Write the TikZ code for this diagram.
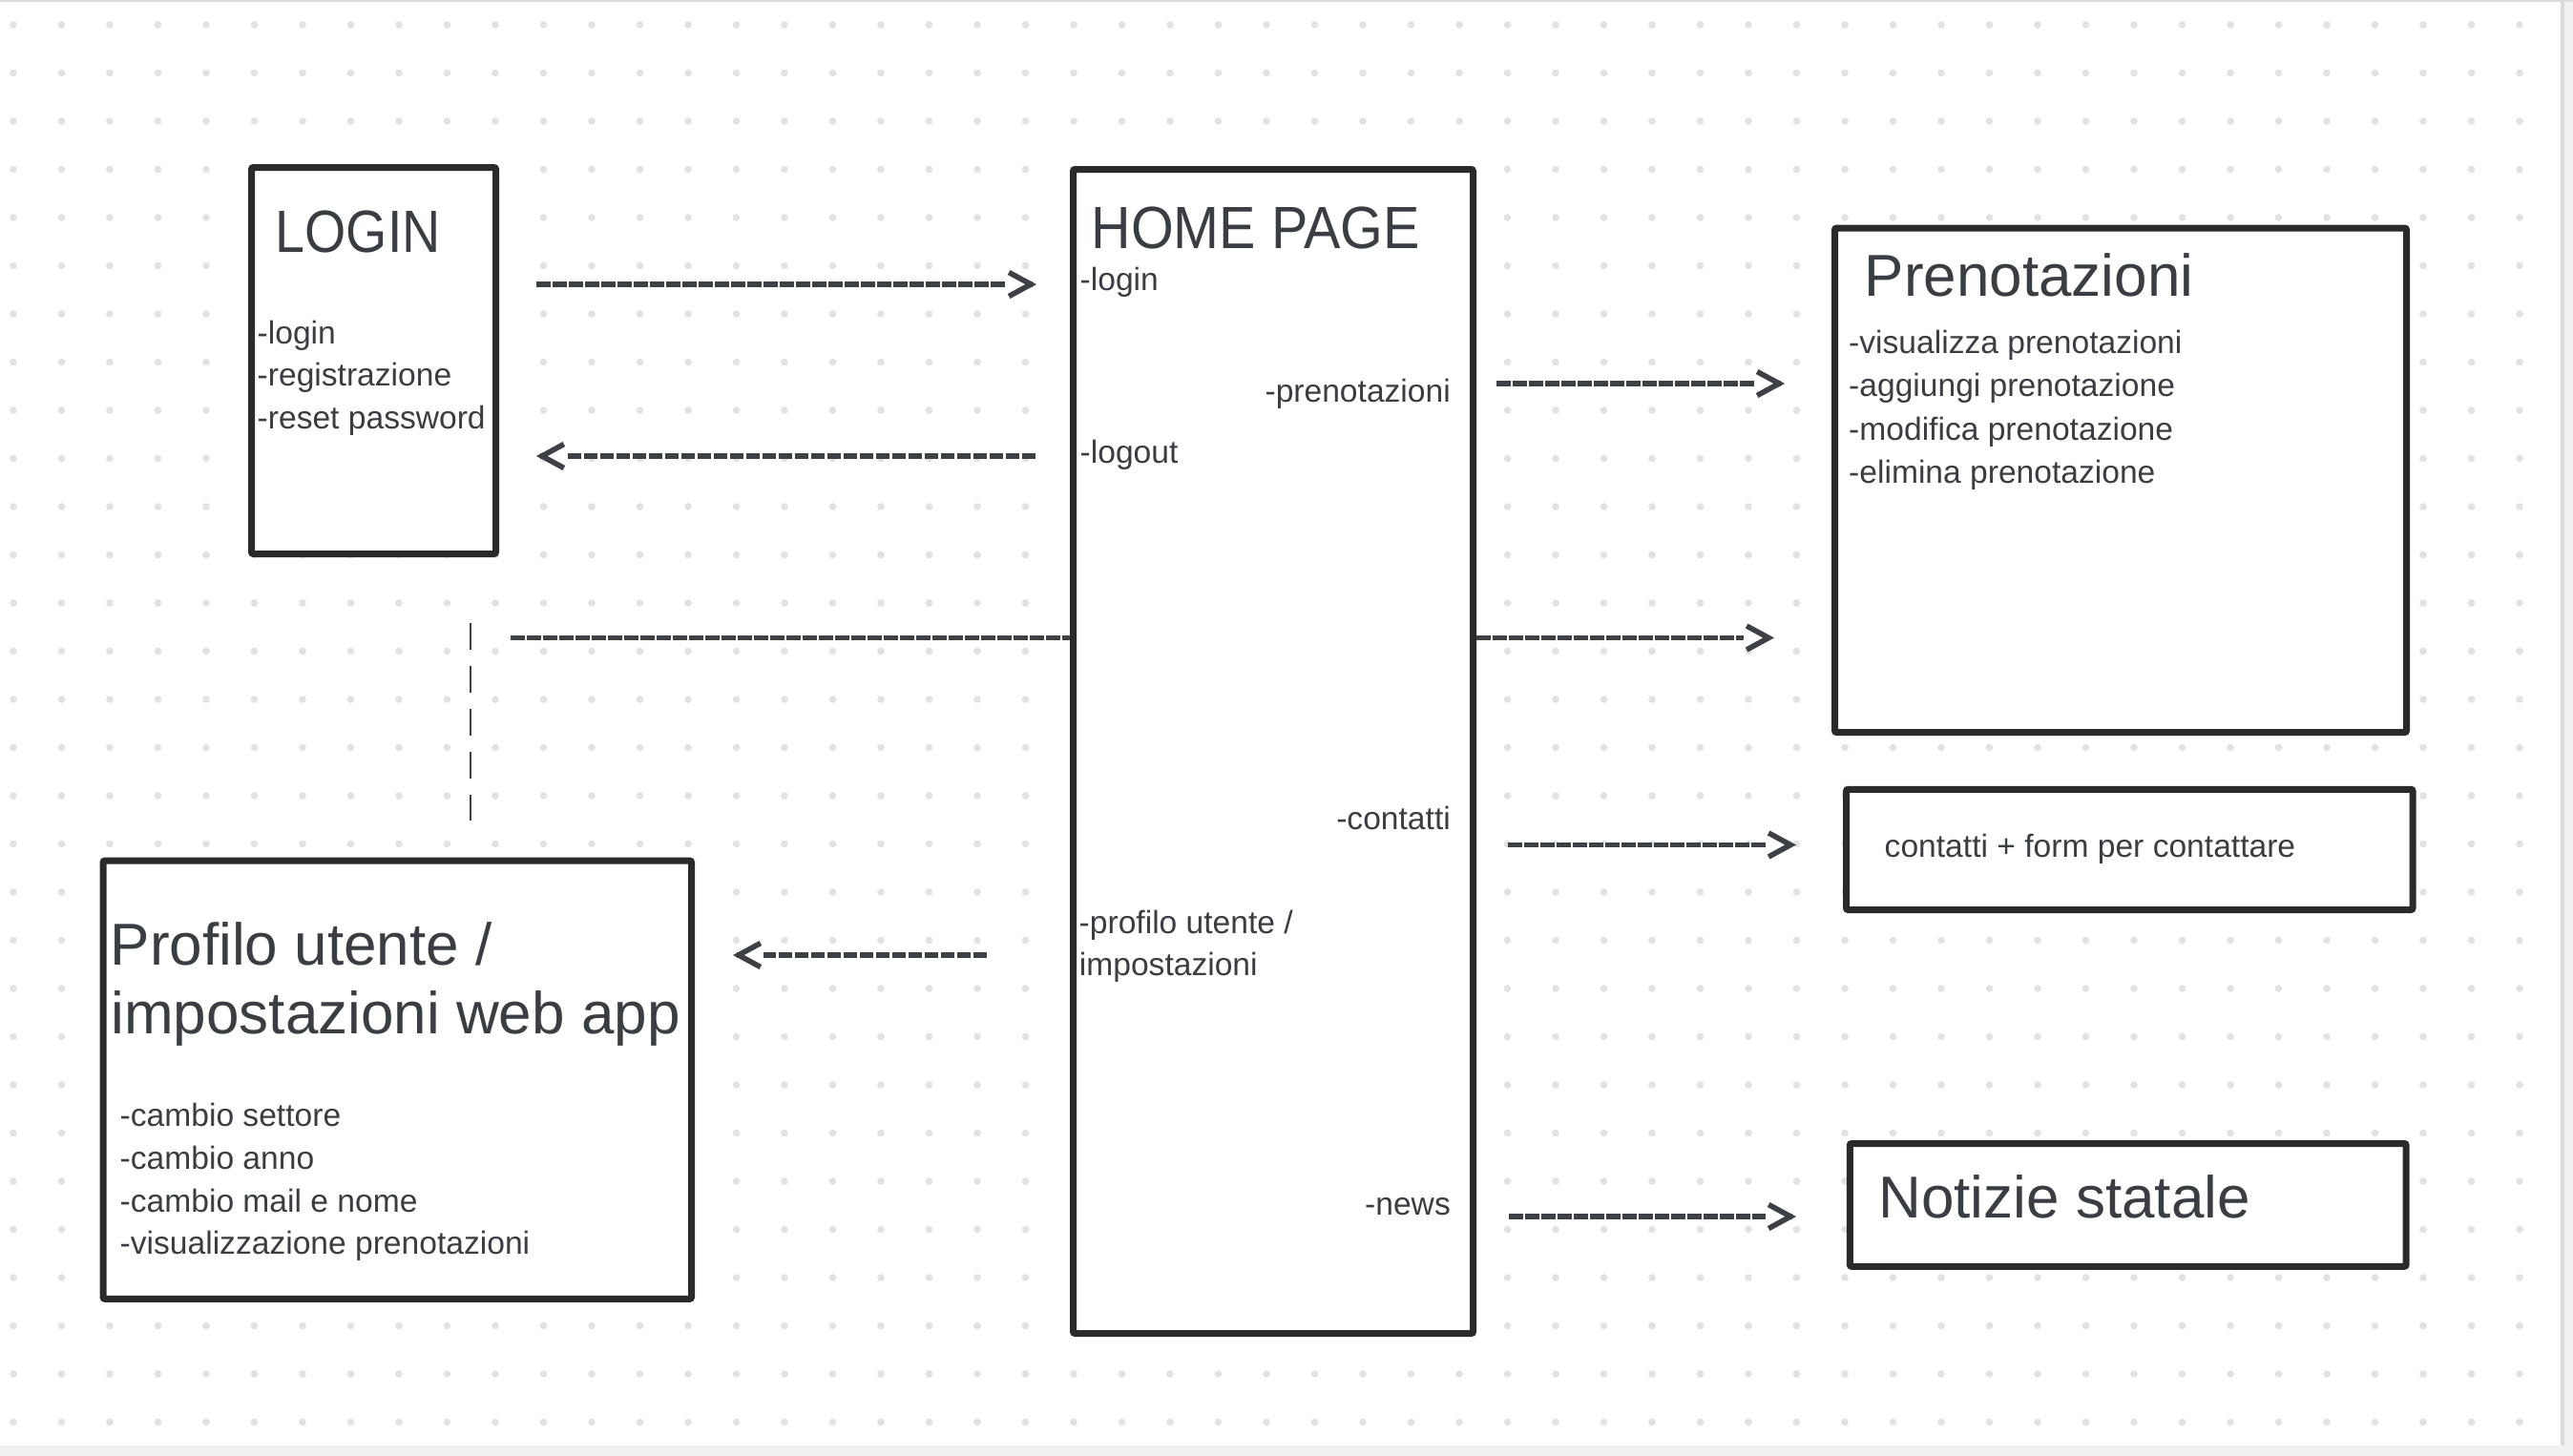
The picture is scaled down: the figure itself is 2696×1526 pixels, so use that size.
\documentclass[tikz,border=0pt]{standalone}
\usepackage{fontspec}
\setmainfont{Liberation Sans}
\newfontfamily\capsfam[FakeStretch=0.89]{Liberation Sans}
\newfontfamily\capsfamb[FakeStretch=0.92]{Liberation Sans}
\usetikzlibrary{arrows.meta,calc}
\definecolor{txt}{HTML}{3A3D42}
\definecolor{boxc}{HTML}{2A2A2A}
\definecolor{arr}{HTML}{3D4045}
\definecolor{dotc}{HTML}{E2E2E2}
\definecolor{strip}{HTML}{F1F1F3}
\definecolor{edgec}{HTML}{DBDBDE}
\newcommand\myBody{\fontsize{33.6}{40}\selectfont}
\newcommand\myTitle{\fontsize{62}{74}\selectfont}
\newcommand\myCaps{\capsfam\fontsize{62.5}{74}\selectfont}
\newcommand\myCapsB{\capsfamb\fontsize{62.5}{74}\selectfont}
\tikzset{
  box/.style={rectangle, draw=boxc, line width=7pt, fill=white, rounded corners=2pt, inner sep=0pt},
  body/.style={font=\myBody, text=txt, inner sep=0pt, anchor=base west},
  bodyr/.style={font=\myBody, text=txt, inner sep=0pt, anchor=base east},
  ttl/.style={font=\myTitle, text=txt, inner sep=0pt, anchor=base west},
  capttl/.style={font=\myCaps, text=txt, inner sep=0pt, anchor=base west},
  capttlb/.style={font=\myCapsB, text=txt, inner sep=0pt, anchor=base west},
  dline/.style={draw=arr, line width=5.3pt, dash pattern=on 14.5pt off 2.5pt},
  chev/.style={draw=arr, line width=5.6pt, -{Straight Barb[length=23pt,width=25pt]}},
  vline/.style={draw=arr, line width=2.5pt, dash pattern=on 28.3pt off 16.7pt}
}
\begin{document}
\begin{tikzpicture}[x=1pt,y=-1pt]
\useasboundingbox (0,0) rectangle (2696,1526);
% board
\fill[strip] (0,0) rectangle (2696,1526);
\fill[white] (0,2) rectangle (2683,1515);
\fill[edgec] (0,0) rectangle (2696,2);
\fill[edgec] (2683,2) rectangle (2687,1515);
\foreach \i in {0,...,52}{
  \foreach \j in {0,...,29}{
    \fill[dotc] (14+50.5*\i, 26+50.5*\j) circle[radius=3.8pt];
  }
}
% boxes
\node[box, minimum width=256pt, minimum height=405pt] (login) at (391.5,378) {};
\node[box, minimum width=419pt, minimum height=1220pt] (home) at (1334,787.5) {};
\node[box, minimum width=599pt, minimum height=528.5pt] (pren) at (2222,503.3) {};
\node[box, minimum width=616.5pt, minimum height=459.3pt] (prof) at (416.3,1131.7) {};
\node[box, minimum width=593.5pt, minimum height=126.3pt] (cont) at (2231.3,890.4) {};
\node[box, minimum width=582.9pt, minimum height=128.8pt] (news) at (2229.7,1262.9) {};
% texts: LOGIN
\node[capttl] (tlogin) at (288.5,264) {LOGIN};
\node[body] (l1) at (269.5,360) {-login};
\node[body] (l2) at (269.5,404) {-registrazione};
\node[body] (l3) at (269.5,449) {-reset password};
% HOME PAGE
\node[capttlb] (thome) at (1143.5,260.5) {HOME PAGE};
\node[body] (h1) at (1131.5,304) {-login};
\node[bodyr] (h2) at (1520,421) {-prenotazioni};
\node[body] (h3) at (1131.5,485) {-logout};
\node[bodyr] (h4) at (1520,869.6) {-contatti};
\node[body] (h5) at (1130.5,978) {-profilo utente /};
\node[body] (h6) at (1130.7,1022.5) {impostazioni};
\node[bodyr] (h7) at (1520,1273) {-news};
% Prenotazioni
\node[ttl] (tpren) at (1953.6,310.2) {Prenotazioni};
\node[body] (p1) at (1937,370.5) {-visualizza prenotazioni};
\node[body] (p2) at (1937,415.8) {-aggiungi prenotazione};
\node[body] (p3) at (1937,461.1) {-modifica prenotazione};
\node[body] (p4) at (1937,506.4) {-elimina prenotazione};
% Profilo
\node[ttl] (tprof1) at (115.5,1011) {Profilo utente /};
\node[ttl] (tprof2) at (116.3,1083) {impostazioni web app};
\node[body] (r1) at (125.5,1180) {-cambio settore};
\node[body] (r2) at (125.5,1225) {-cambio anno};
\node[body] (r3) at (125.5,1270) {-cambio mail e nome};
\node[body] (r4) at (125.5,1314) {-visualizzazione prenotazioni};
% contatti
\node[body] (c1) at (1974.5,898.7) {contatti + form per contattare};
% notizie
\node[ttl] (tnews) at (1968.3,1276.5) {Notizie statale};
% connector end points
\coordinate (a1s) at (562,298);   \coordinate (a1e) at (1086,298);
\coordinate (a2s) at (1085,478);  \coordinate (a2e) at (562,478);
\coordinate (a3s) at (1568,402);  \coordinate (a3e) at (1870,402);
\coordinate (a4s) at (535,668.5); \coordinate (a4e) at (1859,668.5);
\coordinate (a5s) at (1580,885.5);\coordinate (a5e) at (1882,885.5);
\coordinate (a6s) at (1034,1001); \coordinate (a6e) at (768,1001);
\coordinate (a7s) at (1581,1275); \coordinate (a7e) at (1882,1275);
\coordinate (v1) at (493,652.7);  \coordinate (v2) at (493,860);
% connectors
\draw[dline] (a1s) -- ($(a1e)+(-32,0)$);
\draw[chev] ($(a1e)+(-4,0)$) -- (a1e);
\draw[dline] (a2s) -- ($(a2e)+(32,0)$);
\draw[chev] ($(a2e)+(4,0)$) -- (a2e);
\draw[dline] (a3s) -- ($(a3e)+(-32,0)$);
\draw[chev] ($(a3e)+(-4,0)$) -- (a3e);
\draw[dline] (a4s) -- (a4s -| home.west);
\draw[dline] (a4e -| home.east) -- ($(a4e)+(-32,0)$);
\draw[chev] ($(a4e)+(-4,0)$) -- (a4e);
\draw[dline] (a5s) -- ($(a5e)+(-32,0)$);
\draw[chev] ($(a5e)+(-4,0)$) -- (a5e);
\draw[dline] (a6s) -- ($(a6e)+(32,0)$);
\draw[chev] ($(a6e)+(4,0)$) -- (a6e);
\draw[dline] (a7s) -- ($(a7e)+(-32,0)$);
\draw[chev] ($(a7e)+(-4,0)$) -- (a7e);
\draw[vline] (v1) -- (v2);
\end{tikzpicture}
\end{document}
